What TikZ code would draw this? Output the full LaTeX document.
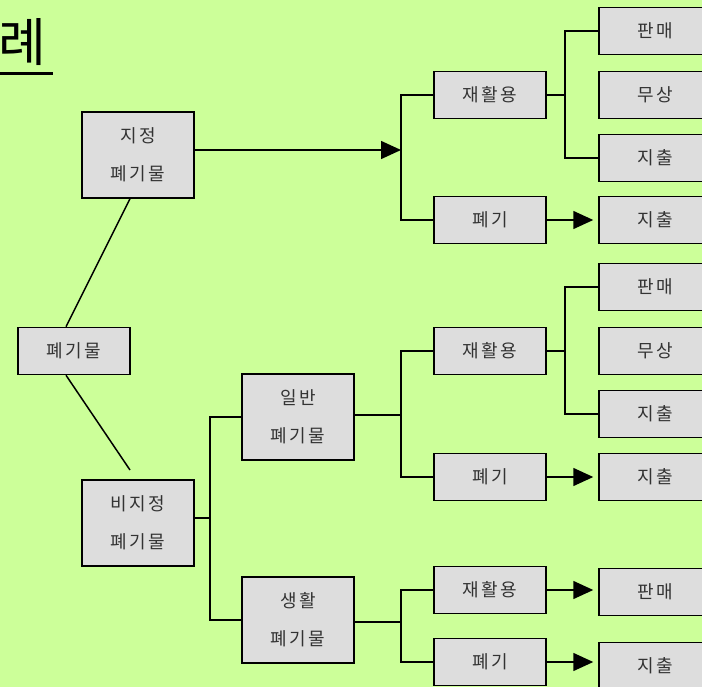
\documentclass[tikz,border=0pt]{standalone}
\usepackage{fontspec}
\newfontfamily\kr{Noto Sans CJK KR}
\newfontfamily\krs[LetterSpace=14]{Noto Sans CJK KR}
\usetikzlibrary{arrows.meta}
\definecolor{bg}{HTML}{CCFF99}
\definecolor{boxfill}{HTML}{DDDDDD}
\begin{document}
\begin{tikzpicture}[x=1pt,y=-1pt,
  box/.style={draw=black, line width=1.5pt, fill=boxfill, minimum width=112pt, minimum height=47pt, inner sep=0pt, font=\krs\fontsize{18}{38}\selectfont, text=black!80, align=center},
  tall/.style={box, minimum height=86pt},
  ln/.style={line width=1.5pt},
  arr/.style={ln, -{Triangle[length=20pt,width=18pt]}, shorten >=5pt}]
\fill[bg] (0,0) rectangle (702,687);
\useasboundingbox (0,0) rectangle (702,687);
% title
\node[font=\kr\fontsize{52}{52}\selectfont, anchor=east, inner sep=0pt] (title) at (47,42) {례};
\draw[line width=3pt] (0,74) -- (53,74);
% nodes
\node[tall] (jj) at (138,155) {지정\\폐기물};
\node[box] (root) at (74,351) {폐기물};
\node[tall] (bj) at (138,523) {비지정\\폐기물};
\node[tall] (ib) at (298,417) {일반\\폐기물};
\node[tall] (sh) at (298,620) {생활\\폐기물};
\node[box] (r1) at (490,95) {재활용};
\node[box] (p1) at (490,220) {폐기};
\node[box] (s1) at (655,31) {판매};
\node[box] (m1) at (655,95) {무상};
\node[box] (e1) at (655,158) {지출};
\node[box] (e2) at (655,220) {지출};
\node[box] (r2) at (490,351) {재활용};
\node[box] (p2) at (490,477) {폐기};
\node[box] (s2) at (655,287) {판매};
\node[box] (m2) at (655,351) {무상};
\node[box] (e3) at (655,414) {지출};
\node[box] (e4) at (655,477) {지출};
\node[box] (r3) at (490,590) {재활용};
\node[box] (p3) at (490,662) {폐기};
\node[box] (s3) at (655,592) {판매};
\node[box] (e5) at (655,666) {지출};
% coordinates
\coordinate (b1) at (401,150);
\coordinate (c1) at (565,95);
\coordinate (c2) at (210,518);
\coordinate (c3) at (401,415);
\coordinate (c4) at (565,351);
\coordinate (c5) at (401,622);
\coordinate (gap) at (130,470);
% connectors
\draw[arr, shorten >=0pt] (jj.east|-b1) -- (b1);
\draw[ln] (r1.west) -| (b1) |- (p1.west);
\draw[ln] (r1.east) -- (c1);
\draw[ln] (s1.west) -| (c1) |- (e1.west);
\draw[arr] (p1.east) -- (p1.east-|e2.west);
\draw[ln] ([xshift=-8pt]jj.south) -- ([xshift=-8pt]root.north);
\draw[ln] ([xshift=-8pt]root.south) -- (gap);
\draw[ln] (bj.east|-c2) -- (c2);
\draw[ln] (ib.west) -| (c2) |- (sh.west);
\draw[ln] (ib.east|-c3) -- (c3);
\draw[ln] (r2.west) -| (c3) |- (p2.west);
\draw[ln] (r2.east) -- (c4);
\draw[ln] (s2.west) -| (c4) |- (e3.west);
\draw[arr] (p2.east) -- (p2.east-|e4.west);
\draw[ln] (sh.east|-c5) -- (c5);
\draw[ln] (r3.west) -| (c5) |- (p3.west);
\draw[arr] (r3.east) -- (r3.east-|s3.west);
\draw[arr] (p3.east) -- (p3.east-|e5.west);
\end{tikzpicture}
\end{document}
